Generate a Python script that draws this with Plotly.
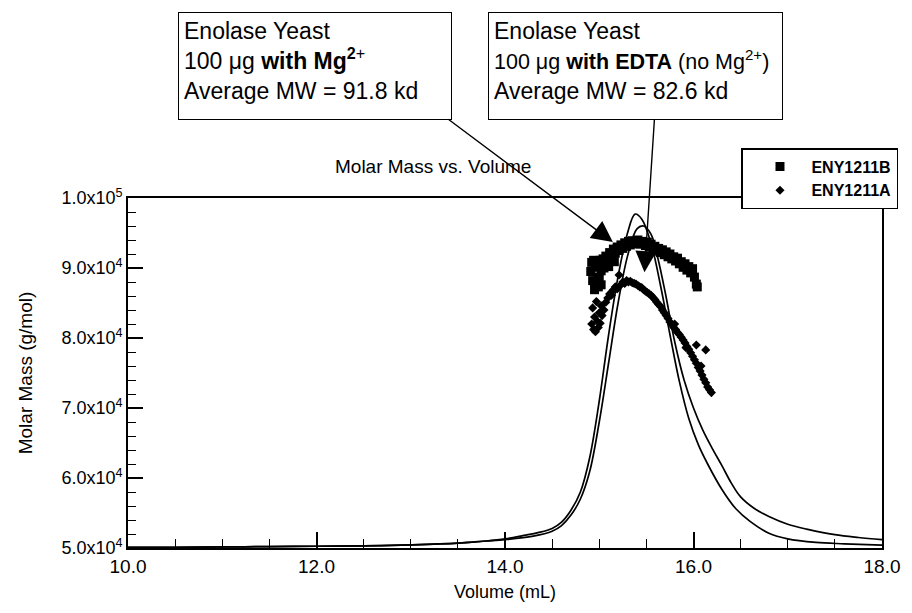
import plotly.graph_objects as go

# ---- data ----
# concentration / light-scattering traces (plotted on the same axes)
trace1_volume = [10.0, 10.5, 11.0, 11.5, 12.0, 12.5, 13.0, 13.5, 13.8, 14.0, 14.2, 14.35,
                 14.5, 14.6, 14.7, 14.8, 14.9, 15.0, 15.1, 15.2, 15.3, 15.38, 15.45, 15.55,
                 15.65, 15.75, 15.85, 15.95, 16.05, 16.15, 16.3, 16.45, 16.6, 16.8, 17.0,
                 17.3, 17.6, 18.0]
trace1_mass = [50100, 50100, 50150, 50200, 50250, 50300, 50450, 50700, 51000, 51300, 51800,
               52200, 52800, 53700, 55400, 58000, 63000, 71000, 80500, 88800, 95000, 97700,
               97000, 93500, 87500, 80500, 73800, 68500, 64800, 62000, 58400, 55600, 53800,
               52100, 51300, 50800, 50600, 50400]

trace2_volume = [10.0, 10.5, 11.0, 11.5, 12.0, 12.5, 13.0, 13.5, 13.8, 14.0, 14.3, 14.5,
                 14.6, 14.7, 14.8, 14.9, 15.0, 15.1, 15.2, 15.3, 15.4, 15.47, 15.55, 15.62,
                 15.7, 15.8, 15.9, 16.0, 16.1, 16.2, 16.3, 16.4, 16.5, 16.65, 16.8, 17.0,
                 17.2, 17.5, 17.75, 18.0]
trace2_mass = [50100, 50100, 50150, 50200, 50250, 50300, 50450, 50700, 51000, 51200, 51700,
               52400, 53200, 54700, 57000, 61000, 68000, 76500, 85000, 91700, 95600, 96000,
               94800, 91500, 86500, 79500, 74000, 70000, 66800, 64200, 61800, 59300, 57300,
               55600, 54500, 53400, 52700, 51900, 51500, 51200]

# ENY1211B (with Mg2+), squares
b_volume = [14.91, 14.92, 14.93, 14.94, 14.95, 14.96, 14.97, 14.98, 14.99, 15.00,
            15.01, 15.02, 15.03, 15.04, 15.05, 15.07, 15.09, 15.11, 15.13, 15.15,
            15.17, 15.19, 15.21, 15.23, 15.25, 15.27, 15.29, 15.31, 15.33, 15.35,
            15.37, 15.39, 15.41, 15.43, 15.45, 15.47, 15.49, 15.51, 15.53, 15.55,
            15.57, 15.59, 15.61, 15.63, 15.65, 15.67, 15.69, 15.71, 15.73, 15.75,
            15.77, 15.79, 15.81, 15.83, 15.85, 15.87, 15.89, 15.91, 15.93, 15.95,
            15.97, 15.99, 16.01, 16.03, 16.04, 14.95, 14.99, 15.02, 15.10, 15.16]
b_mass = [89500, 90800, 88200, 91100, 87900, 90100, 90700, 88700, 90300, 88500,
          91100, 89600, 90600, 91300, 90000, 91700, 90900, 92200, 91500, 92700,
          92100, 93000, 92500, 93300, 92800, 93600, 93100, 93800, 93300, 93900,
          93500, 93700, 94000, 93400, 93800, 93600, 93200, 93700, 93000, 93400,
          92700, 93100, 92400, 92800, 92200, 92600, 91900, 92300, 91600, 92000,
          91300, 91600, 91000, 91400, 90600, 90900, 90100, 90600, 89700, 90200,
          89300, 89900, 88700, 87700, 87300, 86900, 87300, 87600, 90200, 90900]

# ENY1211A (with EDTA), diamonds
a_volume = [14.92, 14.93, 14.94, 14.95, 14.96, 14.97, 14.98, 14.99, 15.00, 15.01,
            15.02, 15.03, 15.05, 15.07, 15.09, 15.11, 15.13, 15.15, 15.17, 15.19,
            15.21, 15.23, 15.25, 15.27, 15.29, 15.31, 15.33, 15.35, 15.37, 15.39,
            15.41, 15.43, 15.45, 15.47, 15.49, 15.51, 15.53, 15.55, 15.57, 15.59,
            15.61, 15.63, 15.65, 15.67, 15.69, 15.71, 15.73, 15.75, 15.77, 15.79,
            15.81, 15.83, 15.85, 15.87, 15.89, 15.91, 15.93, 15.95, 15.97, 15.99,
            16.01, 16.03, 16.05, 16.07, 16.09, 16.11, 16.13, 16.15, 16.17, 16.19,
            16.03, 16.13, 15.80, 15.92, 16.08]
a_mass = [82000, 84300, 81200, 83000, 80900, 85200, 82400, 81500, 83600, 82100,
          84600, 83200, 84000, 85100, 85700, 86300, 86100, 86900, 87300, 87000,
          89000, 87600, 88000, 87800, 88200, 88000, 88100, 87900, 87800, 87700,
          87500, 87300, 87200, 86900, 86700, 86500, 86300, 86100, 85800, 85500,
          85100, 84800, 84500, 84000, 83600, 83200, 82800, 82300, 81900, 81500,
          81200, 80800, 80500, 80100, 79700, 79300, 78800, 78400, 77900, 77400,
          76900, 76400, 75800, 75300, 74700, 74100, 73600, 73000, 72600, 72200,
          79000, 78300, 82000, 78600, 76000]

x_tick_vals = [10, 12, 14, 16, 18]
x_tick_text = ["10.0", "12.0", "14.0", "16.0", "18.0"]
y_tick_vals = [50000, 60000, 70000, 80000, 90000, 100000]
y_tick_text = ["5.0x10<sup>4</sup>", "6.0x10<sup>4</sup>", "7.0x10<sup>4</sup>",
               "8.0x10<sup>4</sup>", "9.0x10<sup>4</sup>", "1.0x10<sup>5</sup>"]

FONT = "Liberation Sans, Arial, sans-serif"

fig = go.Figure()
fig.add_trace(go.Scatter(x=trace1_volume, y=trace1_mass, mode="lines",
                         line=dict(color="black", width=1.7, shape="spline"),
                         showlegend=False, hoverinfo="skip"))
fig.add_trace(go.Scatter(x=trace2_volume, y=trace2_mass, mode="lines",
                         line=dict(color="black", width=1.7, shape="spline"),
                         showlegend=False, hoverinfo="skip"))
fig.add_trace(go.Scatter(x=b_volume, y=b_mass, mode="markers", name="\u00a0ENY1211B",
                         marker=dict(symbol="square", size=9, color="black")))
fig.add_trace(go.Scatter(x=a_volume, y=a_mass, mode="markers", name="\u00a0ENY1211A",
                         marker=dict(symbol="diamond", size=7, color="black")))

L, R, T, B = 128, 22, 198, 65
W, H = 912, 613
pw, ph = W - L - R, H - T - B


def px(xp):
    return (xp - L) / pw


def py(yp):
    return (H - B - yp) / ph


fig.update_layout(
    width=W, height=H,
    margin=dict(l=L, r=R, t=T, b=B),
    paper_bgcolor="white", plot_bgcolor="white",
    font=dict(family=FONT, color="black", size=18),
    showlegend=True,
    legend=dict(x=px(748), y=py(148), xanchor="left", yanchor="top",
                bordercolor="black", borderwidth=1.5, bgcolor="white",
                font=dict(family=FONT, size=16, color="black", weight="bold"),
                itemwidth=44, indentation=10, tracegroupgap=0),
    xaxis=dict(range=[10, 18], tickvals=x_tick_vals, ticktext=x_tick_text,
               ticks="inside", ticklen=16, tickwidth=1.6, tickcolor="black",
               minor=dict(dtick=0.5, ticks="inside", ticklen=9, tickwidth=1.3,
                          tickcolor="black"),
               showline=True, linecolor="black", linewidth=1.8, mirror=True,
               showgrid=False, zeroline=False,
               tickfont=dict(size=19),
               title=dict(text="Volume (mL)", font=dict(size=18), standoff=10)),
    yaxis=dict(range=[50000, 100000], tickvals=y_tick_vals, ticktext=y_tick_text,
               ticks="inside", ticklen=15, tickwidth=1.6, tickcolor="black",
               minor=dict(dtick=2000, ticks="inside", ticklen=8, tickwidth=1.3,
                          tickcolor="black"),
               showline=True, linecolor="black", linewidth=1.8, mirror=True,
               showgrid=False, zeroline=False,
               tickfont=dict(size=18),
               title=dict(text="Molar Mass (g/mol)", font=dict(size=19), standoff=24)),
)

# chart title
fig.add_annotation(xref="paper", yref="paper", x=px(436), y=py(166),
                   text="Molar Mass vs. Volume", showarrow=False,
                   font=dict(size=19), xanchor="center", yanchor="middle")

# callout boxes
fig.add_annotation(xref="paper", yref="paper", x=px(179), y=py(12),
                   xanchor="left", yanchor="top", align="left", valign="top",
                   width=262, height=96, borderpad=5, bordercolor="black",
                   borderwidth=1, bgcolor="white", showarrow=False,
                   font=dict(size=23),
                   text="Enolase Yeast<br>100 μg <b>with Mg<sup>2</sup></b><sup>+</sup>"
                        "<br>Average MW = 91.8 kd")
fig.add_annotation(xref="paper", yref="paper", x=px(492), y=py(12),
                   xanchor="left", yanchor="top", align="left", valign="top",
                   width=283, height=96, borderpad=5, bordercolor="black",
                   borderwidth=1, bgcolor="white", showarrow=False,
                   font=dict(size=23),
                   text="Enolase Yeast<br><span style='font-size:21.5px'>100 μg "
                        "<b>with EDTA</b> (no Mg<sup>2+</sup>)</span>"
                        "<br>Average MW = 82.6 kd")

# arrows
fig.add_annotation(x=15.144, y=93700, xref="x", yref="y", text="", showarrow=True,
                   ax=-166, ay=-124, arrowhead=2, arrowsize=3, arrowwidth=1.4,
                   arrowcolor="black", standoff=0)
fig.add_annotation(x=15.48, y=89400, xref="x", yref="y", text="", showarrow=True,
                   ax=10, ay=-154, arrowhead=2, arrowsize=3, arrowwidth=1.4,
                   arrowcolor="black", standoff=0)

fig.write_html("out.html")
